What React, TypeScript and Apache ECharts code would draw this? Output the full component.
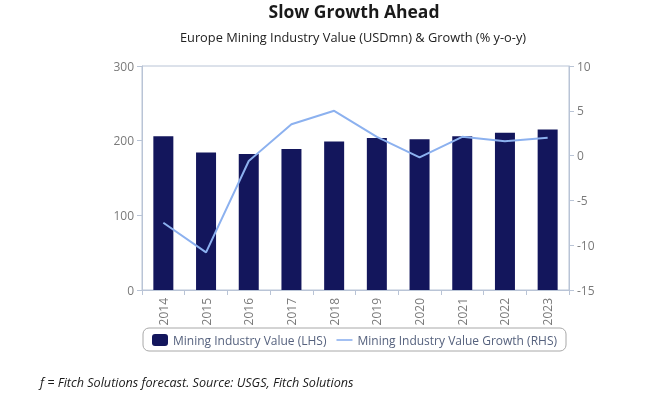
import React, { useEffect, useRef } from "react";
import * as echarts from "echarts";

const categories = ["2014", "2015", "2016", "2017", "2018", "2019", "2020", "2021", "2022", "2023"];
const miningValue = [206, 184, 182, 189, 199, 203.5, 202, 206, 210.5, 215];
const miningGrowth = [-7.5, -10.8, -0.6, 3.5, 5.0, 2.1, -0.2, 2.1, 1.6, 2.0];
const leftTicks = { min: 0, max: 300, interval: 100 };
const rightTicks = { min: -15, max: 10, interval: 5 };

const FONT = "'Open Sans', 'Noto Sans', sans-serif";
const AXIS_COLOR = "#b9c4d6";
const LABEL_COLOR = "#7a7a7a";

export default function App() {
  const ref = useRef<HTMLDivElement>(null);
  useEffect(() => {
    if (!ref.current) return;
    const chart = echarts.init(ref.current, undefined, { renderer: "svg" });
    chart.setOption({
      animation: false,
      textStyle: { fontFamily: FONT },
      graphic: [
        {
          type: "text",
          x: 354,
          y: 11,
          style: {
            text: "Slow Growth Ahead",
            font: `bold 17.5px ${FONT}`,
            fill: "#1a1a1a",
            align: "center",
            verticalAlign: "middle",
          },
        },
        {
          type: "text",
          x: 353,
          y: 37,
          style: {
            text: "Europe Mining Industry Value (USDmn) & Growth (% y-o-y)",
            font: `12.8px ${FONT}`,
            fill: "#222",
            align: "center",
            verticalAlign: "middle",
          },
        },
        {
          type: "text",
          x: 40,
          y: 382,
          style: {
            text: "f = Fitch Solutions forecast. Source: USGS, Fitch Solutions",
            font: `italic 12.6px ${FONT}`,
            fill: "#1a1a1a",
            verticalAlign: "middle",
          },
        },
      ],
      legend: {
        left: 143,
        top: 328,
        padding: [6, 9, 5, 9],
        itemGap: 10,
        itemWidth: 16,
        itemHeight: 12,
        borderColor: "#a8a8a8",
        borderWidth: 1,
        borderRadius: 6,
        textStyle: { color: "#56627e", fontSize: 12, fontFamily: FONT },
        data: [
          { name: "Mining Industry Value (LHS)", icon: "roundRect" },
          { name: "Mining Industry Value Growth (RHS)", icon: "path://M0,0H20V2H0Z" },
        ],
      },
      grid: {
        left: 142,
        right: 103,
        top: 66,
        bottom: 108,
        show: true,
        borderColor: AXIS_COLOR,
        borderWidth: 1,
      },
      xAxis: {
        type: "category",
        data: categories,
        axisLine: { lineStyle: { color: AXIS_COLOR } },
        axisTick: { show: true, alignWithLabel: false, length: 5, lineStyle: { color: AXIS_COLOR } },
        axisLabel: { rotate: 90, color: LABEL_COLOR, fontSize: 12, margin: 8, fontFamily: FONT },
      },
      yAxis: [
        {
          type: "value",
          ...leftTicks,
          splitLine: { show: false },
          axisLine: { show: true, lineStyle: { color: AXIS_COLOR } },
          axisTick: { show: true, length: 5, lineStyle: { color: AXIS_COLOR } },
          axisLabel: { color: LABEL_COLOR, fontSize: 12, margin: 8, fontFamily: FONT },
        },
        {
          type: "value",
          position: "right",
          ...rightTicks,
          splitLine: { show: false },
          axisLine: { show: true, lineStyle: { color: AXIS_COLOR } },
          axisTick: { show: true, length: 5, lineStyle: { color: AXIS_COLOR } },
          axisLabel: { color: LABEL_COLOR, fontSize: 12, margin: 8, fontFamily: FONT },
        },
      ],
      series: [
        {
          name: "Mining Industry Value (LHS)",
          type: "bar",
          data: miningValue,
          barWidth: 20,
          itemStyle: { color: "#13165c" },
        },
        {
          name: "Mining Industry Value Growth (RHS)",
          type: "line",
          yAxisIndex: 1,
          data: miningGrowth,
          symbol: "none",
          lineStyle: { color: "#8cb1ef", width: 2 },
          itemStyle: { color: "#8cb1ef" },
        },
      ],
    });
    return () => chart.dispose();
  }, []);
  return <div ref={ref} style={{ position: "fixed", left: 0, top: 0, width: 672, height: 398 }} />;
}
